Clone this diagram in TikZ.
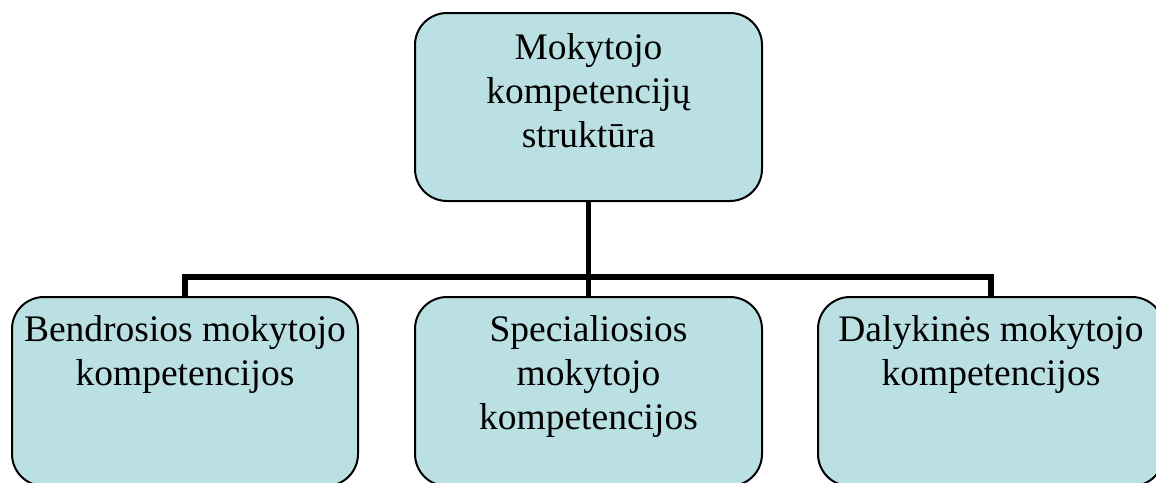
\documentclass[tikz,border=0pt]{standalone}
\usepackage{fontspec}
\setmainfont{Liberation Serif}
\definecolor{boxfill}{RGB}{187,224,227}
\begin{document}
\begin{tikzpicture}[x=1pt,y=-1pt,
  box/.style={draw=black, line width=2pt, fill=boxfill, rounded corners=32pt, inner sep=0pt},
  txt/.style={align=center, inner sep=0pt, font=\fontsize{37.5}{44}\selectfont},
  conn/.style={draw=black, line width=5.5pt}]
\useasboundingbox (0,0) rectangle (1156,482);
\clip (0,0) rectangle (1156,482);
\node[box, minimum width=347pt, minimum height=188pt] (top) at (588.5,107) {};
\node[box, minimum width=346pt, minimum height=189pt] (left) at (185,391.5) {};
\node[box, minimum width=347pt, minimum height=189pt] (mid) at (588.5,391.5) {};
\node[box, minimum width=346pt, minimum height=189pt] (right) at (991,391.5) {};
\coordinate (bar) at (588.5,277);
\draw[conn] (top.south) -- (mid.north);
\draw[conn] (left.north) -- (left.north |- bar) -- (right.north |- bar) -- (right.north);
\node[txt, anchor=base] (ttop) at (588.5,147) {Mokytojo\\kompetencijų\\struktūra};
\node[txt, anchor=base] (tleft) at (185,385) {Bendrosios mokytojo\\kompetencijos};
\node[txt, anchor=base] (tmid) at (588.5,429) {Specialiosios\\mokytojo\\kompetencijos};
\node[txt, anchor=base] (tright) at (991,385) {Dalykinės mokytojo\\kompetencijos};
\end{tikzpicture}
\end{document}
